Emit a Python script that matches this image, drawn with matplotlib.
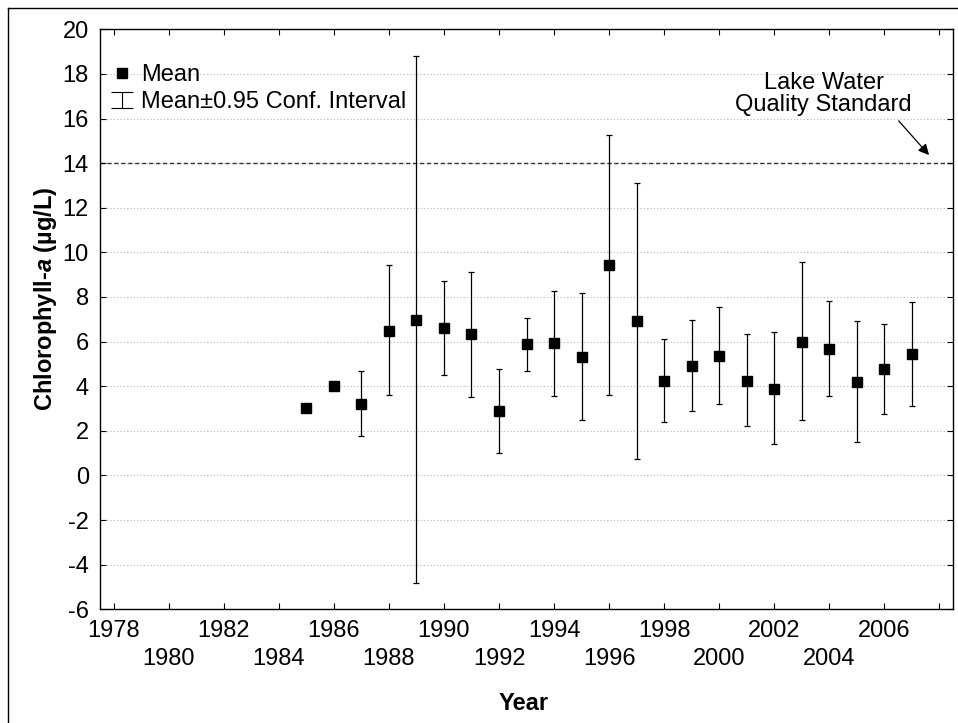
import matplotlib.pyplot as plt
import numpy as np
from matplotlib.lines import Line2D
from matplotlib.path import Path

plt.rcParams['font.family'] = ['Liberation Sans', 'DejaVu Sans']
plt.rcParams['mathtext.fontset'] = 'custom'
plt.rcParams['mathtext.rm'] = 'Liberation Sans:bold'
plt.rcParams['mathtext.it'] = 'Liberation Sans:bold:italic'
plt.rcParams['axes.unicode_minus'] = False

# yearly means and 95% CI bounds (NaN = no interval)
years = [1985, 1986, 1987, 1988, 1989, 1990, 1991, 1992, 1993, 1994, 1995, 1996,
         1997, 1998, 1999, 2000, 2001, 2002, 2003, 2004, 2005, 2006, 2007]
mean = [3.02, 4.0, 3.21, 6.49, 6.95, 6.59, 6.34, 2.9, 5.89, 5.93, 5.3, 9.42,
        6.91, 4.23, 4.91, 5.35, 4.24, 3.88, 5.99, 5.68, 4.18, 4.75, 5.43]
ci_low = [np.nan, np.nan, 1.78, 3.6, -4.84, 4.48, 3.51, 1.01, 4.66, 3.57, 2.47, 3.6,
          0.73, 2.38, 2.91, 3.21, 2.2, 1.4, 2.48, 3.54, 1.48, 2.75, 3.11]
ci_high = [np.nan, np.nan, 4.66, 9.44, 18.79, 8.72, 9.13, 4.78, 7.04, 8.28, 8.17, 15.27,
           13.11, 6.1, 6.95, 7.53, 6.32, 6.41, 9.55, 7.8, 6.91, 6.77, 7.76]
standard = 14
xticks = list(range(1978, 2009, 2))
yticks = list(range(-6, 21, 2))

x = np.array(years)
m = np.array(mean)
lo = np.array(ci_low)
hi = np.array(ci_high)
has_ci = ~np.isnan(lo)

FS = 17

fig = plt.figure(figsize=(9.58, 7.23), dpi=100)
ax = fig.add_axes([0.1044, 0.1573, 0.8904, 0.8022])

for y in yticks:
    ax.axhline(y, color='#b8b8b8', lw=0.8, ls=(0, (1, 2)), zorder=0)
ax.axhline(standard, color='#333333', lw=1.0, ls=(0, (3, 2)), zorder=1)

ax.errorbar(x[has_ci], m[has_ci], yerr=[m[has_ci] - lo[has_ci], hi[has_ci] - m[has_ci]],
            fmt='none', ecolor='black', elinewidth=0.9, capsize=2.4, capthick=0.9, zorder=2)
ax.plot(x, m, 's', color='black', markersize=7.2, zorder=3)

ax.set_xlim(1977.5, 2008.5)
ax.set_ylim(-6, 20)
ax.set_xticks(xticks)
labels = []
for i, t in enumerate(xticks):
    if t == 2008:
        labels.append('')
    elif i % 2 == 0:
        labels.append(str(t))
    else:
        labels.append('\n' + str(t))
ax.set_xticklabels(labels)
for lbl in ax.get_xticklabels():
    lbl.set_linespacing(1.35)
ax.set_yticks(yticks)
ax.tick_params(direction='in', length=4, width=0.8, top=True, right=True,
               labelsize=FS)
ax.tick_params(axis='y', pad=8)
ax.tick_params(axis='x', pad=8)
for s in ax.spines.values():
    s.set_linewidth(1.0)

ax.set_xlabel('Year', fontsize=FS, fontweight='bold')
ax.xaxis.set_label_coords(0.497, -0.142)
ax.set_ylabel(r'Chlorophyll-$\it{a}$ (µg/L)', fontsize=FS, fontweight='bold')
ax.yaxis.set_label_coords(-0.048, 0.535)

ax.annotate('Lake Water\nQuality Standard', xy=(2007.63, 14.36), xytext=(2003.8, 17.1),
            ha='center', va='center', fontsize=FS, linespacing=1.0,
            arrowprops=dict(arrowstyle='-|>', color='black', lw=0.9, relpos=(0.9, 0.0),
                            mutation_scale=16, shrinkA=2, shrinkB=0))

ibeam = Path([(-0.7, -0.5), (0.7, -0.5), (0, -0.5), (0, 0.5), (-0.7, 0.5), (0.7, 0.5)],
             [Path.MOVETO, Path.LINETO, Path.MOVETO, Path.LINETO, Path.MOVETO, Path.LINETO])
handles = [Line2D([], [], marker='s', ls='none', color='black', markersize=7),
           Line2D([], [], marker=ibeam, ls='none', color='black', markersize=16,
                  markeredgewidth=0.8, fillstyle='none')]
ax.legend(handles, ['Mean', 'Mean±0.95 Conf. Interval'], loc='upper left',
          bbox_to_anchor=(0.0123, 0.940), frameon=False, fontsize=FS,
          handlelength=1.0, handletextpad=0.3, labelspacing=0.22,
          borderaxespad=0, borderpad=0)

# outer frame
fig.add_artist(Line2D([8 / 958, 8 / 958], [0, 1 - 8 / 723], transform=fig.transFigure,
                      color='black', lw=1.0))
fig.add_artist(Line2D([8 / 958, 1], [1 - 8 / 723, 1 - 8 / 723], transform=fig.transFigure,
                      color='black', lw=1.0))

fig.savefig('out.png', dpi=100)
